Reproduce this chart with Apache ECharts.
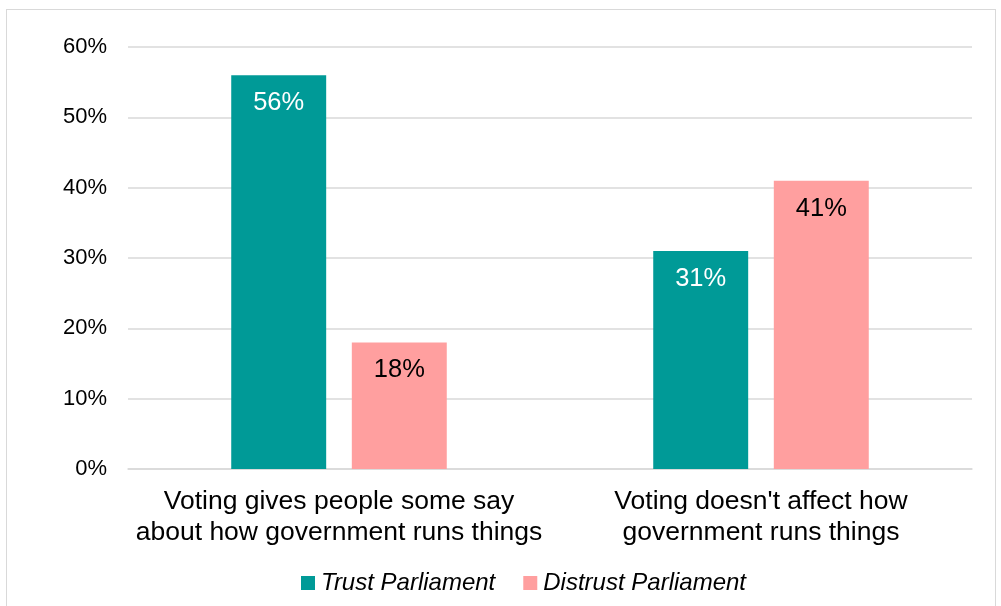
<!DOCTYPE html>
<html>
<head>
<meta charset="utf-8">
<script src="https://cdn.jsdelivr.net/npm/echarts@6/dist/echarts.min.js"></script>
<style>
  html, body { margin: 0; padding: 0; background: #fff; }
  #frame { position: absolute; left: 6px; top: 9px; width: 990px; height: 620px; border: 1.5px solid #d9d9d9; box-sizing: border-box; }
  #chart { position: absolute; left: 0; top: 0; width: 1001px; height: 606px; }
</style>
</head>
<body>
<div id="frame"></div>
<div id="chart"></div>
<script>
// Survey responses by trust in Parliament
const categories = [
  'Voting gives people some say\nabout how government runs things',
  "Voting doesn't affect how\ngovernment runs things"
];
const seriesNames = ['Trust Parliament', 'Distrust Parliament'];
const trustValues = [56, 31];
const distrustValues = [18, 41];
const yTicks = [0, 10, 20, 30, 40, 50, 60];

const font = '"Liberation Sans", Arial, sans-serif';

const chart = echarts.init(document.getElementById('chart'), null, { renderer: 'canvas' });

function barLabel(color) {
  return {
    show: true,
    position: 'insideTop',
    distance: 15,
    formatter: p => p.value + '%',
    color: color,
    fontFamily: font,
    fontSize: 25.5
  };
}

chart.setOption({
  backgroundColor: 'transparent',
  animation: false,
  textStyle: { fontFamily: font },
  grid: { left: 128, right: 29, top: 47, bottom: 137, containLabel: false },
  legend: {
    data: seriesNames,
    top: 566,
    left: 296,
    itemWidth: 14,
    itemHeight: 14,
    itemGap: 28,
    icon: 'rect',
    textStyle: { fontFamily: font, fontSize: 24, fontStyle: 'italic', color: '#000', padding: [0, 0, 0, 1] }
  },
  xAxis: {
    type: 'category',
    data: categories,
    axisLine: { show: true, lineStyle: { color: '#d9d9d9', width: 1.5 } },
    axisTick: { show: false },
    axisLabel: { interval: 0, color: '#000', fontSize: 26.5, lineHeight: 31, margin: 17, fontFamily: font }
  },
  yAxis: {
    type: 'value',
    min: yTicks[0],
    max: yTicks[yTicks.length - 1],
    interval: 10,
    axisLine: { show: false },
    axisTick: { show: false },
    splitLine: { lineStyle: { color: '#d9d9d9', width: 1.5 } },
    axisLabel: { color: '#000', fontSize: 22, margin: 21, formatter: v => v + '%', fontFamily: font }
  },
  series: [
    {
      name: seriesNames[0],
      type: 'bar',
      data: trustValues,
      barWidth: '22.5%',
      barGap: '27%',
      itemStyle: { color: '#009A97' },
      label: barLabel('#fff')
    },
    {
      name: seriesNames[1],
      type: 'bar',
      data: distrustValues,
      barWidth: '22.5%',
      itemStyle: { color: '#FF9F9F' },
      label: barLabel('#000')
    }
  ]
});
</script>
</body>
</html>
